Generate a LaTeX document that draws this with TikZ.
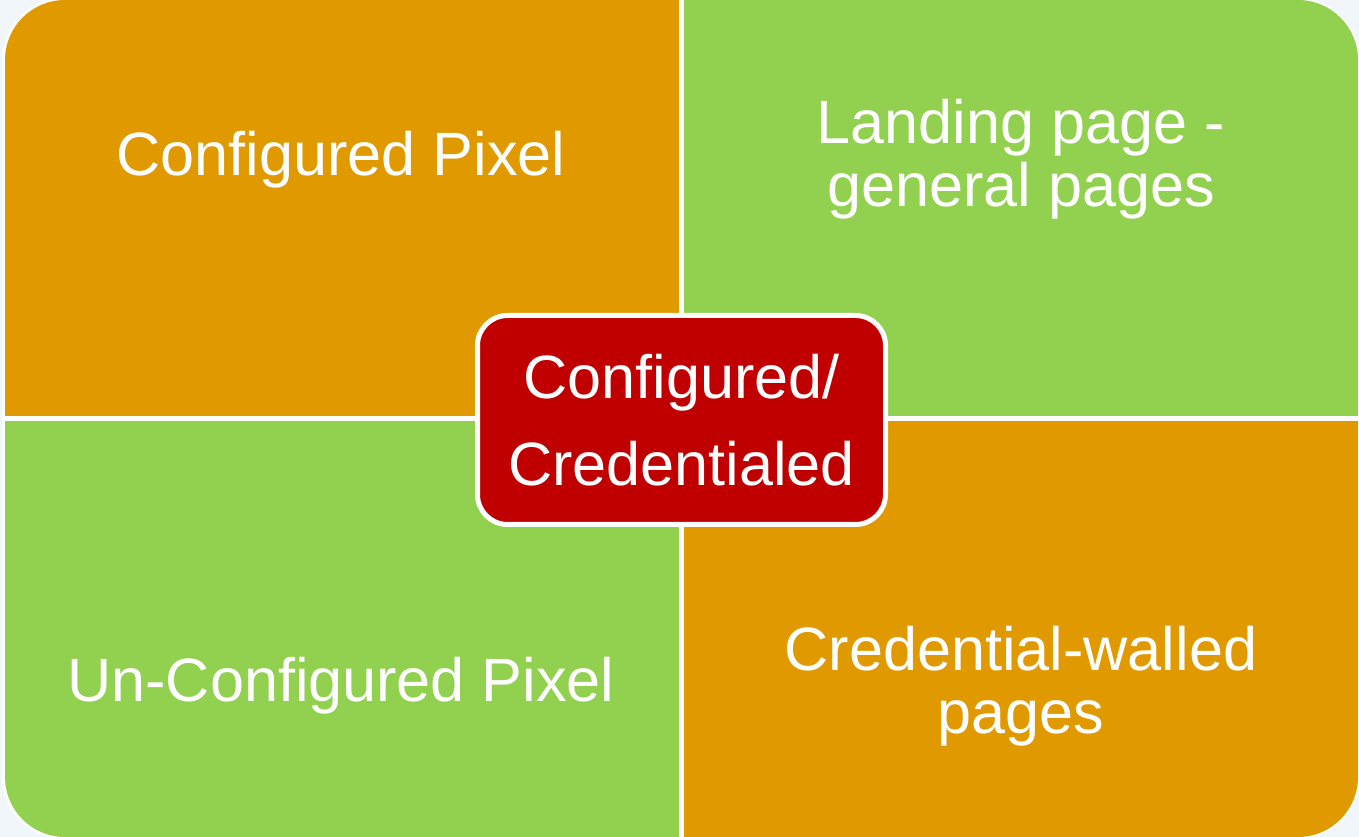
\documentclass[tikz,border=0pt]{standalone}
\usepackage{fontspec}
\setmainfont{Liberation Sans}
\usepackage{tikz}
\definecolor{pageback}{RGB}{240, 246, 250}
\definecolor{quadorange}{RGB}{224, 154, 0}
\definecolor{quadgreen}{RGB}{146, 208, 80}
\definecolor{corered}{RGB}{192, 0, 0}

\begin{document}
\begin{tikzpicture}[
        quadtext/.style={text=white, align=center, font=\fontsize{17.4}{17.8}\selectfont},
        core/.style={rectangle, rounded corners=0.3cm, draw=white, line width=0.05cm, fill=corered, text=white,
            minimum width=4.08cm, minimum height=2.09cm, align=center, font=\fontsize{17.4}{24.8}\selectfont}
    ]
    
    % Page area
    \fill[pageback] (0,0) rectangle (13.59,8.37);
    \useasboundingbox (0,0) rectangle (13.59,8.37);
    \fill[white, rounded corners=0.62cm] (0.02,-0.02) rectangle (13.60,8.39);
    
    % Quadrants, clipped to the rounded outline
    \begin{scope}
        \clip[rounded corners=0.6cm] (0.05,0) rectangle (13.58,8.37);
        \fill[quadorange] (0,4.18) rectangle (6.81,8.37);
        \fill[quadgreen] (6.81,4.18) rectangle (13.59,8.37);
        \fill[quadgreen] (0,0) rectangle (6.81,4.18);
        \fill[quadorange] (6.81,0) rectangle (13.59,4.18);
        \draw[white, line width=0.05cm] (6.81,0) -- (6.81,8.37);
        \draw[white, line width=0.05cm] (0,4.18) -- (13.59,4.18);
    \end{scope}
    
    % Quadrant labels
    \node[quadtext] (pixel) at (3.41, 6.77) {Configured Pixel};
    \node[quadtext] (landing) at (10.21, 6.78) {Landing page -\\ general pages};
    \node[quadtext] (unpixel) at (3.41, 1.51) {Un-Configured Pixel};
    \node[quadtext] (walled) at (10.21, 1.51) {Credential-walled\\ pages};
    
    % Centre box
    \node[core] (center) at (6.815, 4.17) {Configured/\\ Credentialed};
    
\end{tikzpicture}
\end{document}
